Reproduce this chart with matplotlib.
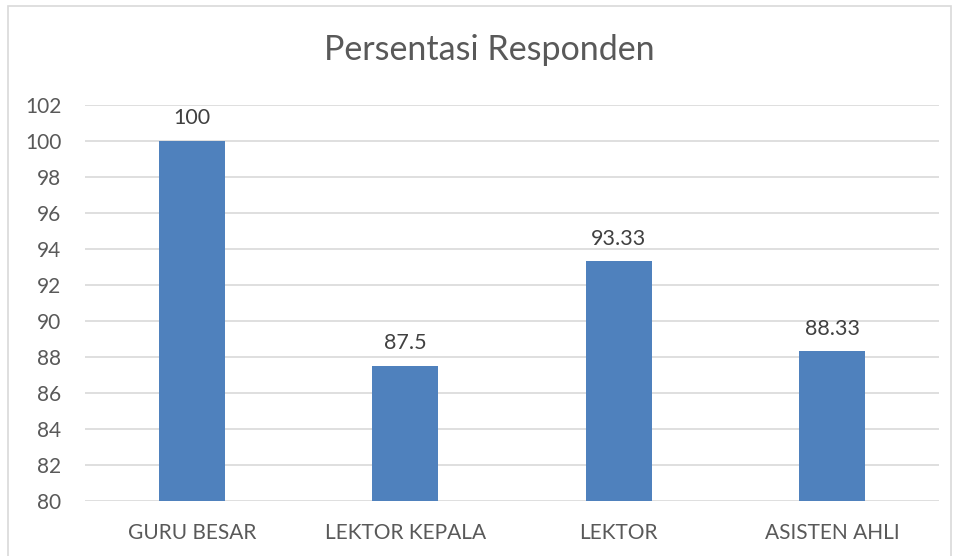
import matplotlib
matplotlib.use("Agg")
import matplotlib.pyplot as plt
from matplotlib.patches import Rectangle

categories = ["GURU BESAR", "LEKTOR KEPALA", "LEKTOR", "ASISTEN AHLI"]
values = [100, 87.5, 93.33, 88.33]
value_labels = ["100", "87.5", "93.33", "88.33"]
yticks = list(range(80, 103, 2))

plt.rcParams['font.family'] = ['Lato', 'DejaVu Sans']
text_color = '#595959'

fig = plt.figure(figsize=(9.54, 5.56), dpi=100)
ax = fig.add_axes([0.0891, 0.0989, 0.8952, 0.7123])

# outer chart border
fig.patches.append(Rectangle((8 / 954, -0.01), 943 / 954, 1 - 6 / 556 + 0.01,
                             transform=fig.transFigure, fill=False,
                             edgecolor='#d9d9d9', linewidth=1.2))

x = range(len(categories))
ax.bar(x, values, width=0.31, color='#4f81bd', zorder=3)
for xi, v, lab in zip(x, values, value_labels):
    ax.annotate(lab, (xi, v), xytext=(0, 9), textcoords='offset points',
                ha='center', va='bottom', fontsize=15.5, color='#404040')

ax.set_xlim(-0.5, 3.5)
ax.set_ylim(80, 102)
ax.set_yticks(yticks)
ax.set_yticklabels([str(t) for t in yticks], fontsize=15, color=text_color)
ax.set_xticks(list(x))
ax.set_xticklabels(categories, fontsize=15, color=text_color)
ax.tick_params(length=0)
ax.tick_params(axis='x', pad=16)
ax.tick_params(axis='y', pad=17)
ax.grid(axis='y', color='#d9d9d9', linewidth=1.2, zorder=0)
for s in ax.spines.values():
    s.set_visible(False)

fig.text(0.513, 1 - 50 / 556, "Persentasi Responden", ha='center', va='center',
         fontsize=24.5, color=text_color)

fig.savefig("out.png", dpi=100)
